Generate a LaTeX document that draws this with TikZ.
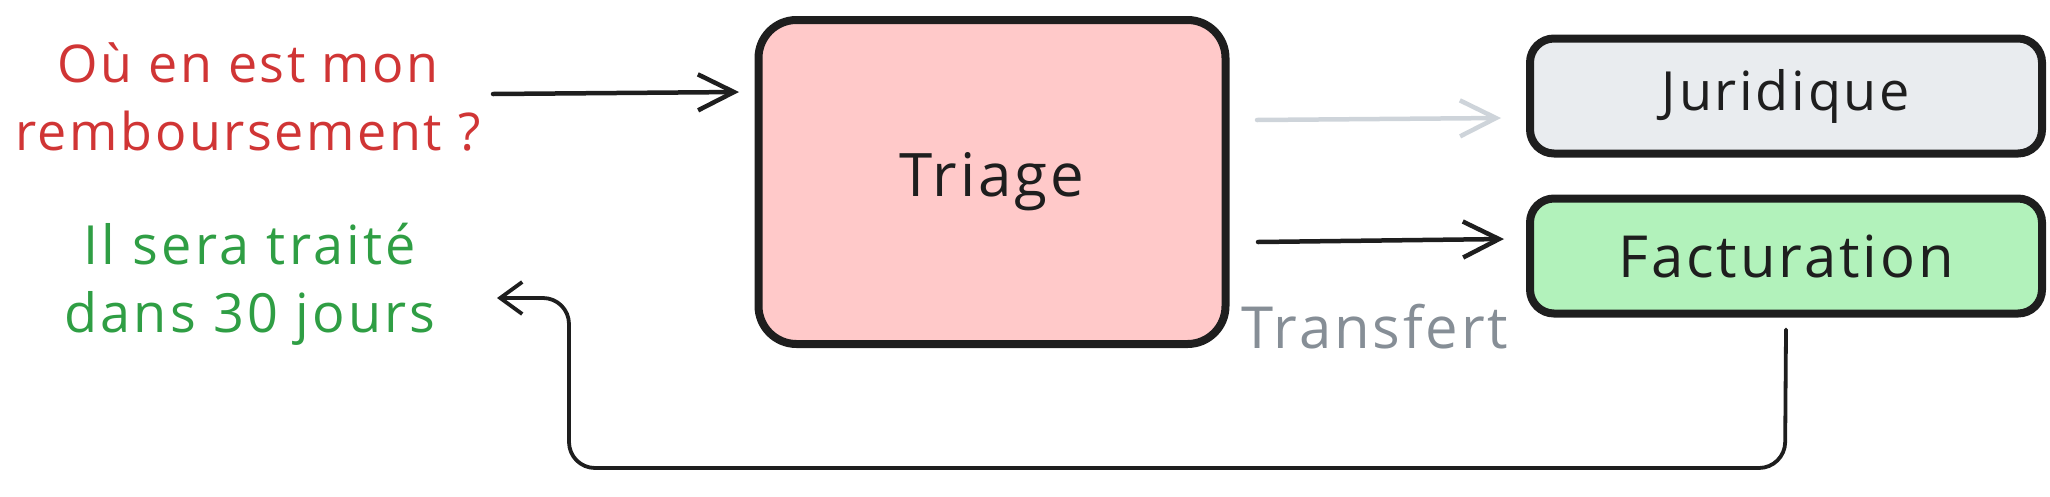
\documentclass[tikz,border=0pt]{standalone}
\usepackage{fontspec}
\setmainfont{Open Sans}
\usetikzlibrary{arrows.meta}
\definecolor{redtxt}{HTML}{D03535}
\definecolor{greentxt}{HTML}{2F9E44}
\definecolor{graytxt}{HTML}{868E96}
\definecolor{grayarr}{HTML}{CED4DA}
\definecolor{triagefill}{HTML}{FFC9C9}
\definecolor{jurfill}{HTML}{E9ECEF}
\definecolor{factfill}{HTML}{B2F2BB}
\definecolor{ink}{HTML}{1E1E1E}
\begin{document}
\begin{tikzpicture}[x=1pt,y=-1pt,
  box/.style={draw=ink, line width=8pt, rounded corners=#1, inner sep=0pt, anchor=center},
  box/.default=24pt,
  tipbig/.style={-{Straight Barb[length=36pt,width=36pt,line width=4.5pt]}},
  arr/.style={draw=ink, line width=4.5pt, line cap=round, tipbig},
  msg/.style={align=center, inner sep=0pt},
  lbl/.style={text=ink, inner sep=0pt}
]
\useasboundingbox (0,0) rectangle (2050,496);

\node[box=38pt, fill=triagefill, minimum width=467pt, minimum height=324pt] (triage) at (992,182) {};
\node[lbl, font=\fontsize{60}{68}\selectfont\addfontfeatures{LetterSpace=5}] (triaget) at (triage.center) {Triage};
\node[box, fill=jurfill, minimum width=512pt, minimum height=115pt] (jur) at (1786,96) {};
\node[lbl, font=\fontsize{54}{60}\selectfont\addfontfeatures{LetterSpace=5}] (jurt) at (jur.center) {Juridique};
\node[box, fill=factfill, minimum width=512pt, minimum height=115pt] (fact) at (1786,256) {};
\node[lbl, font=\fontsize{58}{64}\selectfont\addfontfeatures{LetterSpace=5}] (factt) at (fact.center) {Facturation};

\node[msg, text=redtxt, font=\fontsize{52}{68}\selectfont\addfontfeatures{LetterSpace=5}] (q) at (248,97) {Où en est mon\\remboursement ?};
\node[msg, text=greentxt, font=\fontsize{54}{68}\selectfont\addfontfeatures{LetterSpace=6}] (r) at (250,284) {Il sera traité\\dans 30 jours};
\node[font=\fontsize{58}{64}\selectfont\addfontfeatures{LetterSpace=5}, text=graytxt, inner sep=0pt] (tr) at (1375,327) {Transfert};

\coordinate (qa) at (493,94);
\coordinate (qb) at (739,92);
\draw[arr] (qa) -- (qb);

\coordinate (ga) at (1257,120);
\coordinate (gb) at (1501,118);
\draw[arr, draw=grayarr] (ga) -- (gb);

\coordinate (fa) at (1258,242);
\coordinate (fb) at (1504,239);
\draw[arr] (fa) -- (fb);

\coordinate (rb) at (497,298);
\draw[arr, line width=3.8pt, rounded corners=26pt, -{Straight Barb[length=22pt,width=32pt,line width=3.8pt]}]
  (fact.south) ++(0,12) -- (1785,468) -- (569,468) -- (569,298) -- (rb);
\end{tikzpicture}
\end{document}
